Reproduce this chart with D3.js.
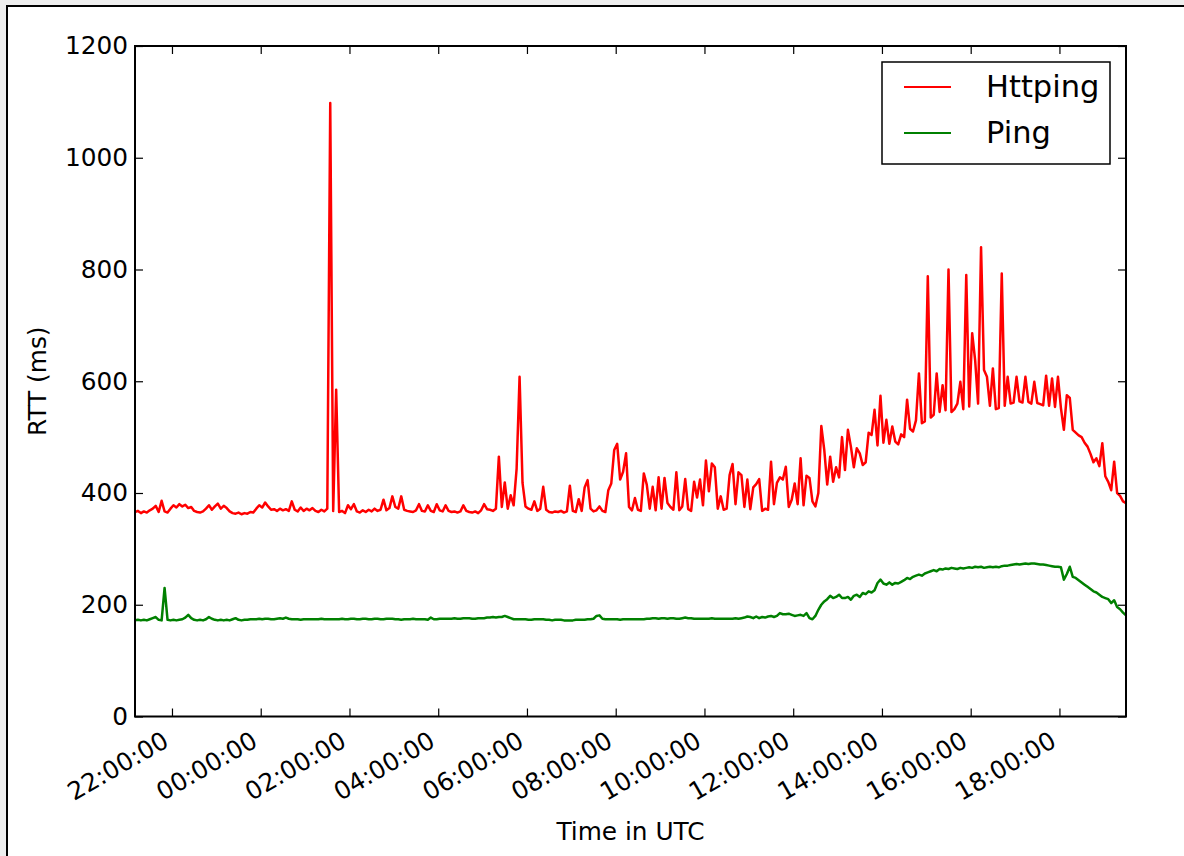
<!DOCTYPE html>
<html lang="en">
<head>
    <meta charset="UTF-8">
    <title>RTT over time</title>
    <script src="https://d3js.org/d3.v7.min.js"></script>
    <style>
        body { margin: 0; background: #eeeeee; }
        svg { display: block; font-family: "DejaVu Sans", sans-serif; }
    </style>
</head>
<body>
<div id="chart"></div>
<script>
    // samples every 4 minutes, starting 21:10 UTC
    const startTime = Date.UTC(2015, 5, 1, 21, 10);
    const stepMinutes = 4;

    const httping = [
        366, 368, 364, 367, 365, 369, 372, 377, 366, 386,
        367, 365, 372, 378, 374, 380, 376, 379, 373, 375,
        368, 366, 365, 367, 372, 378, 370, 376, 381, 372,
        377, 373, 367, 364, 363, 365, 362, 364, 363, 366,
        365, 372, 378, 374, 383, 376, 370, 371, 368, 372,
        369, 371, 368, 385, 370, 367, 374, 368, 372, 369,
        373, 368, 366, 370, 367, 372, 1098, 368, 585, 366,
        368, 364, 378, 371, 380, 367, 365, 369, 366, 370,
        367, 372, 368, 370, 388, 369, 373, 394, 375, 372,
        394, 370, 368, 367, 366, 369, 380, 368, 367, 378,
        368, 366, 380, 369, 367, 378, 368, 366, 367, 365,
        367, 378, 368, 366, 365, 367, 364, 369, 380, 371,
        370, 368, 372, 465, 375, 419, 372, 396, 378, 443,
        608, 418, 376, 372, 370, 385, 368, 372, 411, 370,
        366, 365, 367, 366, 368, 365, 367, 413, 368, 366,
        389, 368, 410, 423, 372, 367, 369, 376, 368, 366,
        405, 417, 477, 488, 424, 438, 471, 375, 369, 391,
        370, 368, 435, 415, 372, 411, 369, 428, 372, 427,
        382, 375, 370, 437, 369, 376, 425, 371, 368, 420,
        392, 424, 378, 458, 403, 453, 446, 372, 394, 370,
        372, 432, 452, 380, 437, 432, 375, 424, 371, 410,
        416, 425, 368, 372, 370, 456, 380, 418, 428, 424,
        447, 375, 388, 417, 380, 462, 378, 431, 427, 385,
        376, 400, 520, 477, 415, 465, 420, 446, 428, 500,
        441, 513, 483, 446, 480, 471, 450, 455, 508, 504,
        549, 485, 574, 490, 531, 488, 519, 492, 487, 505,
        500, 567, 515, 510, 530, 614, 525, 528, 788, 535,
        540, 614, 545, 593, 548, 800, 545, 550, 560, 599,
        550, 790, 555, 686, 638, 560, 840, 620, 608, 556,
        623, 550, 552, 793, 556, 608, 560, 562, 608, 564,
        562, 608, 563, 560, 599, 561, 559, 557, 610, 556,
        605, 554, 608, 552, 513, 575, 570, 513, 508, 503,
        500, 490, 483, 470, 455, 462, 448, 489, 430, 420,
        405, 456, 400, 395, 385, 382
    ];

    const ping = [
        172, 173, 172, 173, 172, 174, 176, 178, 173, 172,
        230, 173, 172, 173, 172, 173, 174, 177, 182, 176,
        173, 172, 173, 172, 174, 178, 175, 173, 172, 173,
        172, 173, 172, 174, 176, 173, 172, 173, 173, 174,
        174, 174, 175, 174, 175, 175, 174, 174, 175, 176,
        175, 177, 175, 174, 174, 174, 173, 174, 174, 174,
        174, 174, 174, 175, 174, 174, 174, 174, 174, 174,
        175, 174, 174, 175, 175, 174, 174, 175, 175, 174,
        174, 175, 175, 174, 174, 175, 175, 175, 174, 174,
        173, 174, 174, 174, 175, 174, 174, 174, 174, 173,
        177, 174, 174, 175, 175, 175, 175, 175, 176, 175,
        175, 176, 176, 176, 175, 175, 176, 176, 176, 177,
        177, 178, 177, 178, 178, 180, 178, 176, 174, 174,
        174, 174, 174, 173, 173, 174, 174, 174, 174, 173,
        173, 172, 173, 173, 173, 172, 172, 172, 172, 173,
        173, 173, 173, 174, 174, 175, 180, 181, 175, 174,
        174, 174, 174, 174, 173, 174, 174, 174, 174, 174,
        174, 174, 174, 175, 175, 176, 176, 175, 176, 176,
        175, 176, 176, 175, 175, 176, 177, 176, 176, 175,
        175, 175, 175, 175, 175, 176, 175, 175, 175, 175,
        175, 175, 175, 176, 175, 176, 177, 179, 178, 176,
        179, 176, 178, 177, 179, 180, 178, 180, 185, 183,
        183, 184, 182, 180, 181, 182, 180, 185, 176, 174,
        180, 191, 200, 206, 210, 216, 212, 214, 218, 212,
        212, 214, 209, 216, 218, 214, 221, 219, 224, 222,
        226, 239, 245, 238, 236, 240, 236, 239, 238, 241,
        244, 248, 246, 250, 252, 254, 252, 256, 258, 260,
        262, 260, 264, 263, 265, 264, 266, 265, 264, 266,
        265, 266, 267, 266, 268, 267, 268, 266, 267, 268,
        267, 268, 267, 269, 270, 270, 271, 272, 273, 272,
        273, 274, 273, 274, 274, 273, 272, 272, 271, 270,
        269, 268, 268, 267, 245, 255, 268, 250, 248, 244,
        240, 236, 232, 228, 224, 222, 218, 214, 212, 210,
        203, 208, 196, 192, 186, 181
    ];

    const yTicks = [0, 200, 400, 600, 800, 1000, 1200];
    const seriesNames = ["Httping", "Ping"];
    const seriesColors = ["#ff0000", "#008000"];

    const timeAt = i => new Date(startTime + i * stepMinutes * 60000);

    const W = 1184, H = 856;
    const plot = { left: 135, right: 1126, top: 46, bottom: 716.5 };

    const svg = d3.select("#chart").append("svg")
        .attr("width", W)
        .attr("height", H);

    // outer frame
    svg.append("rect")
        .attr("x", 7).attr("y", 6)
        .attr("width", W + 20).attr("height", H + 20)
        .attr("fill", "#fff")
        .attr("stroke", "#000")
        .attr("stroke-width", 2);

    const x = d3.scaleUtc()
        .domain([timeAt(0), timeAt(httping.length - 1)])
        .range([plot.left, plot.right]);
    const y = d3.scaleLinear()
        .domain([0, 1200])
        .range([plot.bottom, plot.top]);

    svg.append("clipPath").attr("id", "clip")
        .append("rect")
        .attr("x", plot.left).attr("y", plot.top)
        .attr("width", plot.right - plot.left)
        .attr("height", plot.bottom - plot.top);

    const line = d3.line()
        .x((d, i) => x(timeAt(i)))
        .y(d => y(d));

    [httping, ping].forEach((data, k) => {
        svg.append("path")
            .datum(data)
            .attr("clip-path", "url(#clip)")
            .attr("fill", "none")
            .attr("stroke", seriesColors[k])
            .attr("stroke-width", 2.5)
            .attr("stroke-linejoin", "round")
            .attr("d", line);
    });

    const fmt = d3.utcFormat("%H:%M:%S");
    const hourTicks = d3.utcHour.every(2);

    // bottom axis with rotated labels
    const gx = svg.append("g")
        .attr("transform", `translate(0,${plot.bottom})`)
        .call(d3.axisBottom(x).ticks(hourTicks).tickFormat(fmt).tickSizeInner(-8).tickSizeOuter(0));
    gx.selectAll("text")
        .attr("x", 0).attr("y", 0).attr("dy", null)
        .attr("text-anchor", "end")
        .attr("transform", "translate(-2,29) rotate(-30)");

    // top axis, ticks only
    svg.append("g")
        .attr("transform", `translate(0,${plot.top})`)
        .call(d3.axisTop(x).ticks(hourTicks).tickFormat("").tickSizeInner(-8).tickSizeOuter(0));

    // left axis
    svg.append("g")
        .attr("transform", `translate(${plot.left},0)`)
        .call(d3.axisLeft(y).tickValues(yTicks).tickFormat(d3.format("d"))
            .tickSizeInner(-8).tickSizeOuter(0).tickPadding(7));

    // right axis, ticks only
    svg.append("g")
        .attr("transform", `translate(${plot.right},0)`)
        .call(d3.axisRight(y).tickValues(yTicks).tickFormat("").tickSizeInner(-8).tickSizeOuter(0));

    svg.selectAll(".domain").remove();
    svg.selectAll(".tick line").attr("stroke", "#000").attr("stroke-width", 1.2);
    svg.selectAll(".tick text")
        .attr("font-size", 24.8)
        .attr("font-family", "DejaVu Sans")
        .attr("fill", "#000");

    // spines
    svg.append("rect")
        .attr("x", plot.left).attr("y", plot.top)
        .attr("width", plot.right - plot.left)
        .attr("height", plot.bottom - plot.top)
        .attr("fill", "none")
        .attr("stroke", "#000")
        .attr("stroke-width", 2);

    // axis titles
    svg.append("text")
        .attr("x", (plot.left + plot.right) / 2)
        .attr("y", 840)
        .attr("text-anchor", "middle")
        .attr("font-size", 24.8)
        .text("Time in UTC");

    svg.append("text")
        .attr("transform", `translate(46,${(plot.top + plot.bottom) / 2}) rotate(-90)`)
        .attr("text-anchor", "middle")
        .attr("font-size", 24.8)
        .text("RTT (ms)");

    // legend
    const legend = svg.append("g");
    legend.append("rect")
        .attr("x", 882).attr("y", 62)
        .attr("width", 228).attr("height", 102)
        .attr("fill", "#fff")
        .attr("stroke", "#000")
        .attr("stroke-width", 1.5);

    seriesNames.forEach((name, k) => {
        const ly = 87 + k * 46;
        legend.append("line")
            .attr("x1", 904).attr("x2", 951)
            .attr("y1", ly).attr("y2", ly)
            .attr("stroke", seriesColors[k])
            .attr("stroke-width", 2);
        legend.append("text")
            .attr("x", 986).attr("y", ly + 10)
            .attr("font-size", 30.5)
            .text(name);
    });
</script>
</body>
</html>
